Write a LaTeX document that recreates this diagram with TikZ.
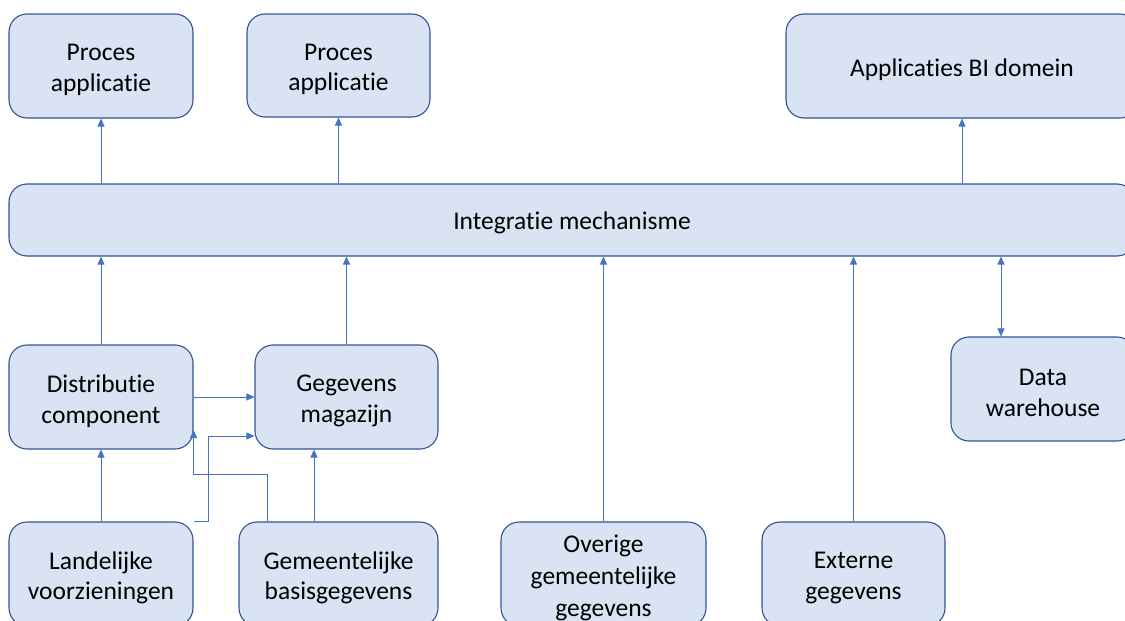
\documentclass[tikz,border=0pt]{standalone}
\usepackage{fontspec}
\setmainfont{Carlito}[RawFeature={-liga;-clig;-calt;-dlig}]
\usetikzlibrary{arrows.meta}
\definecolor{boxfill}{HTML}{DAE3F3}
\definecolor{boxline}{HTML}{2F5597}
\definecolor{arrline}{HTML}{4472C4}
\tikzset{
  box/.style={draw=boxline, fill=boxfill, line width=1.1pt, rounded corners=18pt, inner sep=0pt},
  boxtext/.style={align=center, inner sep=0pt, yshift=-4pt, font=\fontsize{25.5}{30.5}\selectfont, text=black},
  arr/.style={draw=arrline, line width=0.9pt, -{Triangle[length=8pt,width=7pt]}},
  biarr/.style={draw=arrline, line width=0.9pt, {Triangle[length=8pt,width=7pt]}-{Triangle[length=8pt,width=7pt]}}
}
\begin{document}
\begin{tikzpicture}[x=1pt,y=-1pt]
\useasboundingbox (0,0) rectangle (1125,621);
\clip (0,0) rectangle (1125,621);
% top row
\node[box, minimum width=184pt, minimum height=104pt, label={[boxtext]center:Proces\\applicatie}] (p1) at (101,66) {};
\node[box, minimum width=183pt, minimum height=103pt, label={[boxtext]center:Proces\\applicatie}] (p2) at (338.5,65.5) {};
\node[box, minimum width=352pt, minimum height=104pt, label={[boxtext]center:Applicaties BI domein}] (bi) at (962,66) {};
% integration bar
\node[box, minimum width=1126pt, minimum height=72pt, label={[boxtext,yshift=1pt]center:Integratie mechanisme}] (int) at (572,220) {};
% middle row
\node[box, minimum width=184pt, minimum height=104pt, label={[boxtext]center:Distributie\\component}] (dist) at (101,397) {};
\node[box, minimum width=183pt, minimum height=104pt, label={[boxtext]center:Gegevens\\magazijn}] (geg) at (346.5,397) {};
\node[box, minimum width=184pt, minimum height=104pt, label={[boxtext]center:Data\\warehouse}] (dw) at (1043,389) {};
% bottom row
\node[box, minimum width=184pt, minimum height=104pt, label={[boxtext]center:Landelijke\\voorzieningen}] (lan) at (101,574) {};
\node[box, minimum width=199pt, minimum height=104pt, label={[boxtext]center:Gemeentelijke\\basisgegevens}] (gem) at (338.5,574) {};
\node[box, minimum width=205pt, minimum height=104pt, label={[boxtext,font=\fontsize{25.5}{32}\selectfont]center:Overige\\gemeentelijke\\gegevens}] (ove) at (603.5,574) {};
\node[box, minimum width=183pt, minimum height=104pt, label={[boxtext]center:Externe\\gegevens}] (ext) at (853.5,574) {};
% arrows up from integration bar
\draw[arr] (p1.south |- int.north) -- (p1.south);
\draw[arr] (p2.south |- int.north) -- (p2.south);
\draw[arr] (bi.south |- int.north) -- (bi.south);
% arrows into integration bar
\draw[arr] (dist.north) -- (dist.north |- int.south);
\draw[arr] (geg.north) -- (geg.north |- int.south);
\draw[arr] (ove.north) -- (ove.north |- int.south);
\draw[arr] (ext.north) -- (ext.north |- int.south);
\draw[biarr] ([xshift=-42pt]dw.north) -- ([xshift=-42pt]dw.north |- int.south);
% lower connections
\draw[arr] (lan.north) -- (dist.south);
\draw[arr] ([xshift=-24.5pt]gem.north) -- ([xshift=-24.5pt]gem.north |- geg.south);
\draw[arr] (dist.east) -- (geg.west);
\draw[arr] (lan.north east) -- ++(15,0) |- ([yshift=-39pt]geg.west);
\draw[arr] ([xshift=-71.5pt]gem.north) -- ++(0,-47) -| ([yshift=-33pt]dist.east);
\end{tikzpicture}
\end{document}
